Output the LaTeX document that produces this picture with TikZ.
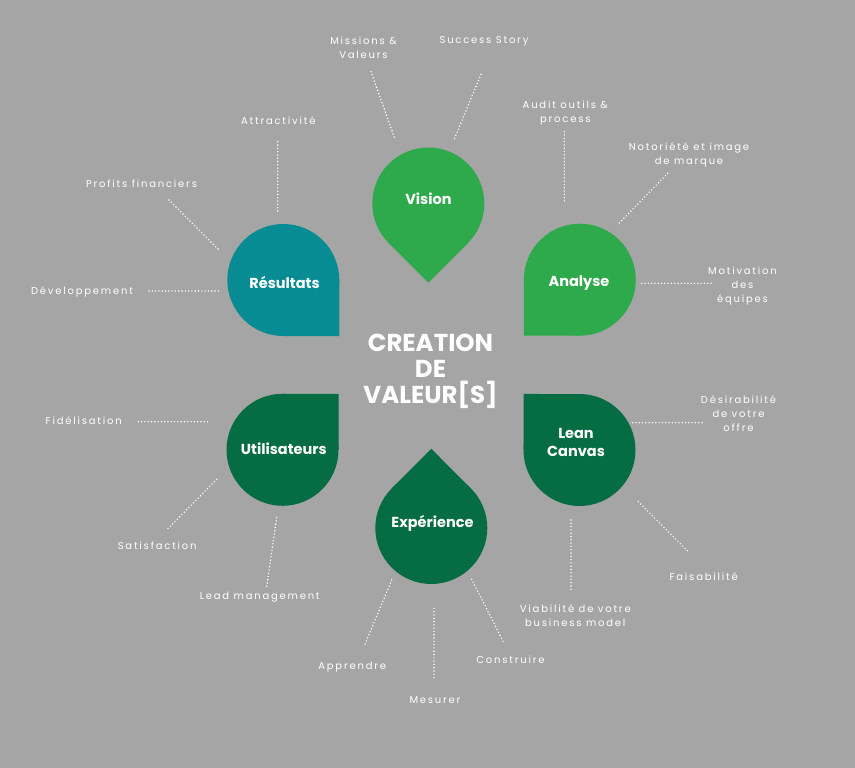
\documentclass[tikz,border=0pt]{standalone}
\usepackage{fontspec}
\setmainfont{Poppins}
\newfontfamily\labfont[LetterSpace=18]{Poppins}
\definecolor{bg}{HTML}{A5A5A5}
\definecolor{lgreen}{HTML}{2EAA4C}
\definecolor{teal}{HTML}{088C94}
\definecolor{dgreen}{HTML}{066C43}
\newcommand\dropshape[4]{%
  \fill[#4] (#1,#2) circle[radius=56];
  \fill[#4,shift={(#1,#2)}] (0,0) -- (#3+45:56) -- (#3:79.2) -- (#3-45:56) -- cycle;}
\begin{document}
\begin{tikzpicture}[x=1pt,y=-1pt,
  lab/.style={text=white,font=\labfont\fontsize{10}{14}\selectfont,align=center,inner sep=0pt},
  big/.style={text=white,font=\bfseries\fontsize{14.5}{18}\selectfont,align=center,inner sep=0pt},
  ttl/.style={text=white,font=\bfseries\fontsize{24.5}{26}\selectfont,align=center,inner sep=0pt},
  dots/.style={white,line width=1.6pt,line cap=round,dash pattern=on 0pt off 3.3pt}]
\fill[bg] (0,0) rectangle (855,768);
\useasboundingbox (0,0) rectangle (855,768);
% shapes
\dropshape{428.3}{203.5}{90}{lgreen}
\dropshape{579.8}{279.7}{135}{lgreen}
\dropshape{283.3}{280}{45}{teal}
\dropshape{282.5}{449.8}{-45}{dgreen}
\dropshape{579.5}{450}{-135}{dgreen}
\dropshape{431.3}{528}{-90}{dgreen}
% shape texts
\node[big] (vision) at (428.5,199) {Vision};
\node[big] (analyse) at (579,282.7) {Analyse};
\node[big] (resultats) at (284.5,282.7) {Résultats};
\node[big] (utilisateurs) at (283.8,448.3) {Utilisateurs};
\node[big] (lean) at (576,442) {Lean\\Canvas};
\node[big] (experience) at (432.5,523.3) {Expérience};
\node[ttl] (title) at (430.5,371) {CREATION\\DE\\VALEUR[S]};
% labels
\node[lab] (missions) at (363.5,47.5) {Missions \&\\Valeurs};
\node[lab] (success) at (484,41.7) {Success Story};
\node[lab] (audit) at (565.3,113.3) {Audit outils \&\\process};
\node[lab] (notoriete) at (689,155.3) {Notoriété et image\\de marque};
\node[lab] (motivation) at (742.5,285.8) {Motivation\\des\\équipes};
\node[lab] (attract) at (278.3,120.7) {Attractivité};
\node[lab] (profits) at (141.5,183.3) {Profits financiers};
\node[lab] (devel) at (82,291.7) {Développement};
\node[lab] (fidel) at (83.7,420.7) {Fidélisation};
\node[lab] (satisf) at (157.2,546) {Satisfaction};
\node[lab] (lead) at (259.7,596.7) {Lead management};
\node[lab] (apprendre) at (352.2,666.7) {Apprendre};
\node[lab] (mesurer) at (435,700) {Mesurer};
\node[lab] (construire) at (510.5,660) {Construire};
\node[lab] (desir) at (738.5,413.3) {Désirabilité\\de votre\\offre};
\node[lab] (faisab) at (703.7,576.7) {Faisabilité};
\node[lab] (viab) at (575.3,615.5) {Viabilité de votre\\business model};
% dotted connectors
\coordinate (a1) at (371,71.7);   \coordinate (a2) at (394.3,137.3);
\coordinate (b1) at (481,74.3);   \coordinate (b2) at (454.3,139);
\coordinate (c1) at (564.3,131.7);\coordinate (c2) at (564.3,201);
\coordinate (d1) at (667.7,173.3);\coordinate (d2) at (619,223.3);
\coordinate (e1) at (641.7,283.3);\coordinate (e2) at (711.7,283.3);
\coordinate (f1) at (277.7,141.7);\coordinate (f2) at (277.7,211);
\coordinate (g1) at (169,200);    \coordinate (g2) at (218.3,249.3);
\coordinate (h1) at (149,291);    \coordinate (h2) at (219,291);
\coordinate (i1) at (138.3,421.7);\coordinate (i2) at (208.3,421.7);
\coordinate (j1) at (216.7,479.3);\coordinate (j2) at (167.7,529);
\coordinate (k1) at (276.7,517.7);\coordinate (k2) at (266.7,586.7);
\coordinate (l1) at (391.7,580);  \coordinate (l2) at (365,644.3);
\coordinate (m1) at (434,608.3);  \coordinate (m2) at (434,678.3);
\coordinate (n1) at (471.7,579.3);\coordinate (n2) at (503.3,641.7);
\coordinate (o1) at (632.7,422.7);\coordinate (o2) at (702.7,422.7);
\coordinate (p1) at (638.3,501.7);\coordinate (p2) at (687.7,551);
\coordinate (q1) at (571,520);    \coordinate (q2) at (571,589.3);
\foreach \s/\t in {a1/a2,b1/b2,c1/c2,d1/d2,e1/e2,f1/f2,g1/g2,h1/h2,i1/i2,j1/j2,k1/k2,l1/l2,m1/m2,n1/n2,o1/o2,p1/p2,q1/q2}
  \draw[dots] (\s) -- (\t);
\end{tikzpicture}
\end{document}
